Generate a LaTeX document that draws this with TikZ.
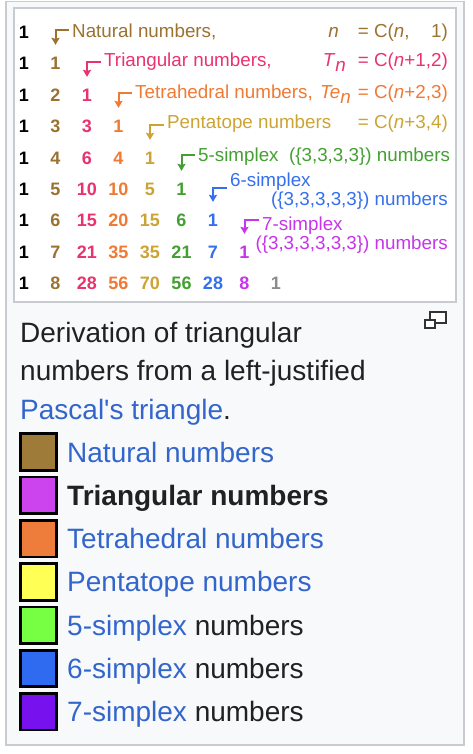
\documentclass[tikz,border=0pt]{standalone}
\usepackage{fontspec}
\setmainfont{Liberation Sans}
\usetikzlibrary{positioning,arrows.meta}
\definecolor{natc}{RGB}{155,114,48}
\definecolor{tric}{RGB}{234,51,110}
\definecolor{tetc}{RGB}{240,122,52}
\definecolor{penc}{RGB}{204,164,52}
\definecolor{fivec}{RGB}{68,160,50}
\definecolor{sixc}{RGB}{52,112,238}
\definecolor{sevc}{RGB}{200,52,236}
\definecolor{lastc}{RGB}{140,140,140}
\definecolor{linkc}{RGB}{51,102,204}
\definecolor{textc}{RGB}{32,33,34}
\definecolor{framec}{RGB}{200,204,209}
\definecolor{panelc}{RGB}{248,249,250}
\definecolor{iconc}{RGB}{51,51,51}
\definecolor{sqnat}{RGB}{158,123,56}
\definecolor{sqtri}{RGB}{204,68,238}
\definecolor{sqtet}{RGB}{238,124,58}
\definecolor{sqpen}{RGB}{255,255,85}
\definecolor{sqfive}{RGB}{119,255,68}
\definecolor{sqsix}{RGB}{47,107,240}
\definecolor{sqsev}{RGB}{119,17,238}
\newcommand{\numfont}{\fontsize{18}{20}\selectfont\bfseries}
\newcommand{\lblfont}{\fontsize{18.8}{22}\selectfont}
\newcommand{\capfont}{\fontsize{28}{38.5}\selectfont}
\newcommand{\subn}{\raisebox{-5pt}{\textit{n}}}

\begin{document}
\begin{tikzpicture}[x=1pt,y=-1pt,
        >={Stealth[length=7pt,width=8pt,inset=1pt]},
        num/.style={font=\numfont,inner sep=0pt,text height=12.9pt,text depth=0pt},
        lbl/.style={font=\lblfont,inner sep=0pt,text height=13.5pt,text depth=0pt,anchor=west},
        capt/.style={font=\capfont,inner sep=0pt,text height=20pt,text depth=0pt,anchor=west},
        sq/.style={draw=black,line width=2.7pt,minimum size=36.5pt,inner sep=0pt},
        arr/.style={->,line width=2pt,shorten <=3.5pt,shorten >=11.5pt}]
        \fill[white] (0,0) rectangle (472,754);
        \useasboundingbox (0,0) rectangle (472,754);
        % frames
        \draw[framec,line width=1.8pt,fill=panelc] (6,1.5) rectangle (464,745);
        \draw[framec,line width=2pt,fill=white] (14,8.5) rectangle (455.5,302);
        % left-justified Pascal's triangle
        \node[num,text=black] (n10) at (24,32) {1};
        \node[num,text=black] (n20) at (24,63) {1};
        \node[num,text=natc] (n21) at (55.5,63) {1};
        \node[num,text=black] (n30) at (24,95) {1};
        \node[num,text=natc] (n31) at (55.5,95) {2};
        \node[num,text=tric] (n32) at (87,95) {1};
        \node[num,text=black] (n40) at (24,126) {1};
        \node[num,text=natc] (n41) at (55.5,126) {3};
        \node[num,text=tric] (n42) at (87,126) {3};
        \node[num,text=tetc] (n43) at (118.5,126) {1};
        \node[num,text=black] (n50) at (24,158) {1};
        \node[num,text=natc] (n51) at (55.5,158) {4};
        \node[num,text=tric] (n52) at (87,158) {6};
        \node[num,text=tetc] (n53) at (118.5,158) {4};
        \node[num,text=penc] (n54) at (150,158) {1};
        \node[num,text=black] (n60) at (24,189) {1};
        \node[num,text=natc] (n61) at (55.5,189) {5};
        \node[num,text=tric] (n62) at (87,189) {10};
        \node[num,text=tetc] (n63) at (118.5,189) {10};
        \node[num,text=penc] (n64) at (150,189) {5};
        \node[num,text=fivec] (n65) at (181.5,189) {1};
        \node[num,text=black] (n70) at (24,220) {1};
        \node[num,text=natc] (n71) at (55.5,220) {6};
        \node[num,text=tric] (n72) at (87,220) {15};
        \node[num,text=tetc] (n73) at (118.5,220) {20};
        \node[num,text=penc] (n74) at (150,220) {15};
        \node[num,text=fivec] (n75) at (181.5,220) {6};
        \node[num,text=sixc] (n76) at (213,220) {1};
        \node[num,text=black] (n80) at (24,252) {1};
        \node[num,text=natc] (n81) at (55.5,252) {7};
        \node[num,text=tric] (n82) at (87,252) {21};
        \node[num,text=tetc] (n83) at (118.5,252) {35};
        \node[num,text=penc] (n84) at (150,252) {35};
        \node[num,text=fivec] (n85) at (181.5,252) {21};
        \node[num,text=sixc] (n86) at (213,252) {7};
        \node[num,text=sevc] (n87) at (244.5,252) {1};
        \node[num,text=black] (n90) at (24,283) {1};
        \node[num,text=natc] (n91) at (55.5,283) {8};
        \node[num,text=tric] (n92) at (87,283) {28};
        \node[num,text=tetc] (n93) at (118.5,283) {56};
        \node[num,text=penc] (n94) at (150,283) {70};
        \node[num,text=fivec] (n95) at (181.5,283) {56};
        \node[num,text=sixc] (n96) at (213,283) {28};
        \node[num,text=sevc] (n97) at (244.5,283) {8};
        \node[num,text=lastc] (n98) at (276,283) {1};
        % diagonal labels
        \node[lbl,text=natc] (lnat) at (72,31) {Natural numbers,};
        \node[lbl,text=tric] (ltri) at (104,60) {Triangular numbers,};
        \node[lbl,text=tetc] (ltet) at (135,92) {Tetrahedral numbers,};
        \node[lbl,text=penc] (lpen) at (167,122) {Pentatope numbers};
        \node[lbl,text=fivec] (lfive) at (198,155) {5-simplex\ \ (\{3,3,3,3\}) numbers};
        \node[lbl,text=sixc] (lsix) at (230,180) {6-simplex};
        \node[lbl,anchor=east,text=sixc] (lsixb) at (448,199) {(\{3,3,3,3,3\}) numbers};
        \node[lbl,text=sevc] (lsev) at (262,224) {7-simplex};
        \node[lbl,anchor=east,text=sevc] (lsevb) at (448,243) {(\{3,3,3,3,3,3\}) numbers};
        \node[lbl,anchor=east,text=natc] (snat) at (339,31) {\textit{n}};
        \node[lbl,anchor=east,text=tric] (stri) at (346,60) {\textit{T}\subn};
        \node[lbl,anchor=east,text=tetc] (stet) at (351,92) {\textit{Te}\subn};
        \node[lbl,anchor=east,text=natc] (enat) at (448,31) {= C(\textit{n},\phantom{+1}1)};
        \node[lbl,anchor=east,text=tric] (etri) at (448,60) {= C(\textit{n}+1,2)};
        \node[lbl,anchor=east,text=tetc] (etet) at (448,92) {= C(\textit{n}+2,3)};
        \node[lbl,anchor=east,text=penc] (epen) at (448,122) {= C(\textit{n}+3,4)};
        \draw[arr,natc] ([yshift=1pt]lnat.west) -| (n21.north);
        \draw[arr,tric] ([yshift=-2pt]ltri.west) -| (n32.north);
        \draw[arr,tetc] ([yshift=-1pt]ltet.west) -| (n43.north);
        \draw[arr,penc] ([yshift=-3pt]lpen.west) -| (n54.north);
        \draw[arr,fivec] (lfive.west) -| (n65.north);
        \draw[arr,sixc] ([yshift=-8pt]lsix.west) -| (n76.north);
        \draw[arr,sevc] ([yshift=4pt]lsev.west) -| (n87.north);
        % enlarge icon
        \draw[iconc,line width=1.3pt,fill=white] (430,312) rectangle (446,323);
        \draw[iconc,line width=1.3pt,fill=white] (425,320) rectangle (435,328);
        % caption
        \node[capt,text=textc] (cap1) at (20,332) {Derivation of triangular};
        \node[capt,text=textc] (cap2) at (20,370.5) {numbers from a left-justified};
        \node[capt] (cap3) at (20,409) {\textcolor{linkc}{Pascal\textquotesingle s triangle}\textcolor{textc}{.}};
        % legend
        \node[sq,fill=sqnat] (k1) at (38.5,452) {};
        \node[sq,fill=sqtri] (k2) at (38.5,495.3) {};
        \node[sq,fill=sqtet] (k3) at (38.5,538.6) {};
        \node[sq,fill=sqpen] (k4) at (38.5,581.9) {};
        \node[sq,fill=sqfive] (k5) at (38.5,625.2) {};
        \node[sq,fill=sqsix] (k6) at (38.5,668.5) {};
        \node[sq,fill=sqsev] (k7) at (38.5,711.8) {};
        \node[capt,text=linkc] (t1) at (67,452) {Natural numbers};
        \node[capt,text=textc,font=\capfont\bfseries] (t2) at (67,495.3) {Triangular numbers};
        \node[capt,text=linkc] (t3) at (67,538.6) {Tetrahedral numbers};
        \node[capt,text=linkc] (t4) at (67,581.9) {Pentatope numbers};
        \node[capt] (t5) at (67,625.2) {\textcolor{linkc}{5-simplex} \textcolor{textc}{numbers}};
        \node[capt] (t6) at (67,668.5) {\textcolor{linkc}{6-simplex} \textcolor{textc}{numbers}};
        \node[capt] (t7) at (67,711.8) {\textcolor{linkc}{7-simplex} \textcolor{textc}{numbers}};
    \end{tikzpicture}
\end{document}
